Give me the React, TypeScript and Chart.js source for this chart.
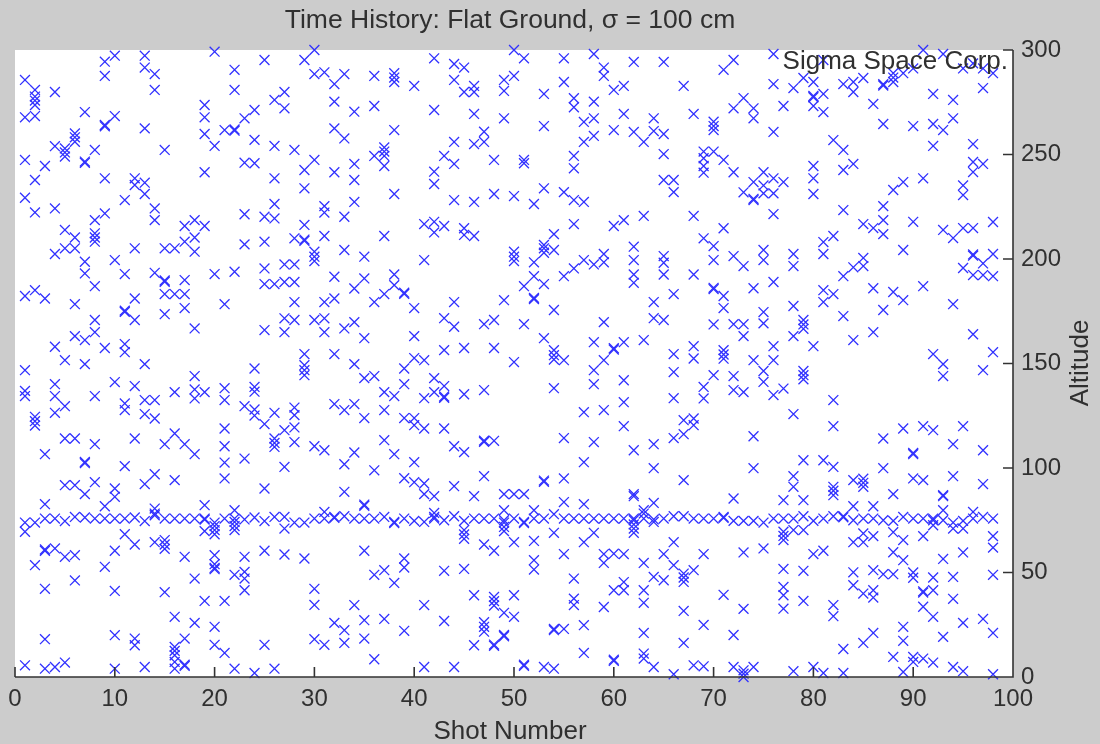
import React, { useEffect, useRef } from "react";
import { Chart, registerables } from "chart.js";

Chart.register(...registerables);

const titleText = "Time History: Flat Ground, σ = 100 cm";
const xAxisLabel = "Shot Number";
const yAxisLabel = "Altitude";
const watermark = "Sigma Space Corp.";
const xTicks = [0, 10, 20, 30, 40, 50, 60, 70, 80, 90, 100];
const yTicks = [0, 50, 100, 150, 200, 250, 300];

// Ground return near 75 for each shot 1..98
const groundReturn = [
  73.9, 73.9, 75.8, 75.8, 74.6, 76.6, 76.3, 75.8, 75.8, 75.8, 75.8, 76.3, 74.6, 77.4, 75.8, 75.8, 75.8, 75.8, 75.8, 73.9,
  75.8, 75.8, 75.4, 76.3, 74.6, 76.6, 76.6, 73.9, 73.9, 75.8, 75.8, 76.6, 76.9, 75.8, 75.8, 75.8, 76.6, 74.2, 75.8, 74.7,
  74.2, 75.8, 75, 76.9, 74.7, 75.8, 75.8, 75.8, 75, 75.8, 74.2, 75.8, 75.8, 77.9, 75.8, 75.8, 75.8, 75.8, 75.8, 75.8,
  75.8, 75.8, 75.8, 75.4, 75.8, 76.9, 76.9, 75.8, 75.8, 75.8, 76.6, 74.7, 74.7, 74.7, 73.9, 75.8, 75.8, 75.8, 76.9, 74.7,
  75.8, 76.9, 76.9, 75, 75.8, 75.8, 75, 74.7, 76.6, 75.8, 75.8, 75.8, 75, 73.9, 74.7, 75.8, 76.6, 75.8,
];
const boldGroundShots = [19, 32, 38, 51, 71, 83];

// Noise returns per shot, index 0 is shot 1
const noiseReturns: number[][] = [
  [285.7, 267.8, 247.4, 229.3, 182.3, 146.8, 136.9, 134.4, 69.5, 5.6],
  [280.9, 277.7, 275.8, 273.7, 268.4, 237.8, 222.3, 185.1, 124.5, 122.4, 120.3, 53.5],
  [244.5, 181.1, 106.6, 82.7, 61, 60.4, 42.2, 18.1, 4],
  [279.9, 254, 224.2, 202.4, 158, 140.1, 134.4, 126.4, 61.5, 4.8],
  [252.9, 251, 249, 213.9, 205.1, 151.6, 129.6, 114.1, 91.8, 57.5, 6.9],
  [260.1, 258.2, 256.1, 210.3, 205.1, 178.4, 163.1, 114.1, 91.8, 58.3, 46.2],
  [270.3, 246.6, 246, 198.7, 193.1, 161.2, 149.7, 102.9, 102.3, 87.5],
  [252.2, 218.6, 212.3, 210.3, 208.3, 187, 170.8, 165, 134.4, 111.4, 93.2],
  [294.4, 287.6, 264.1, 263.5, 238.6, 221.8, 157.4, 81.7, 52.7],
  [297.3, 268.4, 199.5, 141.1, 90.2, 86.2, 60.4, 41.2, 20, 4],
  [228.2, 192.8, 175.3, 174.7, 159.3, 155.4, 130.9, 127.7, 100.9, 68.3],
  [238.6, 235.4, 205.1, 181.1, 170.8, 139.2, 114.1, 63.4, 18.4, 15.2],
  [297.3, 291.6, 262.5, 236.5, 231.1, 149.7, 132.5, 125.8, 92.3, 4.8],
  [288.5, 280.9, 224.2, 218.6, 193.4, 132.5, 123.7, 97, 80.6, 78.2, 64.5],
  [252.2, 205.1, 189.7, 189.1, 183.2, 173.6, 111.4, 65.5, 63.4, 61.3, 40.6],
  [205.1, 183.2, 136.3, 116.5, 94.2, 28.8, 14.4, 12.5, 10.4, 7.2, 4],
  [215.8, 208.3, 189.9, 183.2, 176.5, 111.4, 57.5, 18.4, 5.9, 5.3],
  [218.6, 210.3, 203.5, 166.8, 144, 137.6, 133.3, 106.6, 47.1, 25.9],
  [273.7, 267.8, 259.8, 241.5, 215.8, 136.3, 82.2, 69.8, 36.4],
  [299.2, 254.1, 192.8, 72.2, 70.3, 68.3, 58.3, 54, 52.2, 51.6, 24, 15.4],
  [261.7, 178.4, 138.2, 132.5, 118.9, 110.4, 102.6, 95, 36.4, 11.5],
  [290.5, 280.9, 262, 261.4, 193.9, 79.8, 74.2, 72.2, 70.3, 48.9, 4],
  [267.3, 246.1, 221.4, 207, 129.6, 104.5, 57.5, 50.3, 47.1, 41.5],
  [271.3, 257, 245.8, 147.6, 138.8, 136.5, 128, 125.1, 1.9],
  [295.2, 220.2, 208.3, 195.5, 188, 166, 121, 90.2, 60.4, 15.4],
  [276.1, 254.1, 238.6, 226.3, 219.4, 188, 126.4, 114.1, 112, 110.1, 4],
  [279.9, 272.1, 197.4, 189, 171.6, 165, 118.1, 100.5, 71, 58.6],
  [252.2, 209.9, 197.4, 189, 179.4, 170.8, 128.9, 125.3, 119.4, 112.4],
  [295.2, 242.6, 233.8, 216.3, 209.3, 208.7, 154.5, 149.2, 146.8, 144.4, 56.7],
  [300, 288.5, 247.4, 203.5, 201.1, 199, 170.8, 110.4, 42.2, 34.5, 18.1],
  [289.3, 225.3, 222.2, 211, 179.4, 171.6, 165, 108.5, 79, 15.4],
  [283.7, 275.3, 262.5, 241.5, 191.5, 181.1, 154.5, 130.6, 25.9],
  [288.5, 257.7, 220.2, 204.3, 166.8, 127.7, 101.8, 88.6, 22.4, 16.3],
  [270.5, 245.5, 237.8, 227.3, 185.9, 169.8, 149.7, 130.6, 107.4, 34.4],
  [201.1, 190.7, 162.1, 143, 123.9, 82.5, 81.9, 60.4, 27.2, 18.4],
  [287.6, 273.2, 249.3, 179.4, 144, 98.9, 48.9, 8.5],
  [253.4, 251.4, 249.3, 244.5, 211, 183.2, 136.3, 127.7, 113.3, 51.1, 27.8],
  [288.9, 286.8, 284.7, 261.7, 231.1, 192.6, 187.5, 134.4, 106.6, 45],
  [183.9, 183.3, 147.6, 140.1, 123.9, 95.1, 56.7, 52.4, 22.1],
  [282.8, 176.5, 163.1, 152.6, 123.9, 120.5, 102.8, 93.2],
  [216.7, 199.5, 151.6, 133.4, 118.9, 92.6, 87.5, 34.4, 4.8],
  [296, 271.3, 241.8, 235.9, 217.8, 212.7, 143, 136.3, 86.5, 78.5, 76.6],
  [249.3, 215.8, 171.7, 156.4, 139.2, 134.2, 133.6, 118.9, 50.8, 26.8],
  [293.3, 285.7, 256, 245.5, 228.2, 179.4, 167.6, 110.4, 91.3, 4.8],
  [291.6, 279.9, 214.7, 211.5, 157.4, 135.3, 107.6, 70.3, 68.2, 66.1, 51.7],
  [282.8, 279.9, 269.4, 255, 227.3, 211, 86.5, 39.1, 15.2],
  [260.9, 256, 168.8, 137.3, 113.1, 112.5, 96.1, 63.4, 26.2, 24, 21.7],
  [247.4, 231.1, 170.8, 157.4, 113, 60.4, 38.3, 36.3, 34.2, 15.5, 14.9],
  [285.7, 280.4, 267.3, 180.3, 87.5, 79.8, 73.9, 71.8, 69.8, 30.7, 20.1, 19.5],
  [300, 287.6, 230.1, 203.5, 201.1, 199, 150.7, 87.5, 64.5, 39.1, 28.8],
  [296, 247.4, 245.8, 187, 168.8, 87.5, 5.9, 5.3],
  [226.3, 198.4, 191.8, 181.4, 180.8, 79.8, 65.1, 55.9, 51.4],
  [279, 263.6, 233.8, 206.7, 205.1, 203, 188, 162.1, 94, 93.4, 4.8],
  [211.9, 204.3, 175.6, 156.4, 154, 151.9, 138.2, 69, 23, 22.4, 4],
  [296, 284.7, 232, 191.8, 151.6, 114.3, 95, 83.7, 58.8, 23],
  [276.9, 272.6, 249.3, 243.4, 228.2, 216.7, 195.5, 47.1, 37.5, 34.4],
  [265.6, 256, 227.3, 199.5, 126.7, 102.8, 82.7, 64.5, 24.8, 11.5],
  [298.1, 275.3, 267.3, 258.9, 197.4, 160.2, 146.8, 140.1, 112.4, 69],
  [291.6, 287.6, 202.4, 198.4, 169.8, 151.6, 127.7, 58.8, 54.6, 33.5],
  [280.9, 261.7, 215.8, 157.3, 156.7, 59, 41.5, 8.3, 7.7],
  [282.8, 269.4, 218.6, 160.2, 142, 131.5, 120, 58.8, 45.4, 41.5],
  [294.3, 260.8, 205.9, 199.5, 192.6, 188.6, 108.5, 87.5, 86.5, 75, 73, 71, 69],
  [256, 220.6, 161.2, 79.8, 78.2, 54.6, 41.5, 35.5, 21.1, 11.2, 8.8],
  [267.3, 261.2, 179.4, 171.7, 111.4, 99.9, 83.3, 74.2, 47.9, 4.8],
  [294.3, 259.8, 250.2, 237.8, 201.4, 198.2, 192.6, 170.8, 58.8, 46.3],
  [237.8, 232, 183.2, 154.5, 145.9, 133.4, 114.3, 64.5, 53.5, 1.3],
  [282.8, 122.9, 116.2, 94.2, 49.5, 47.6, 45.5, 31.6, 16.3],
  [269.4, 220.6, 192.6, 158.3, 152.4, 123.7, 120.5, 51.1, 5.6],
  [251.4, 248.2, 244.5, 241.3, 209.9, 138.8, 133.3, 58.8, 24.9, 5.1],
  [265.7, 263.6, 261.7, 251.4, 206.2, 199.5, 186.2, 185.6, 168.7, 144.4],
  [290.5, 247.4, 214.7, 182.3, 176.5, 156.4, 154.3, 152.3, 39.3],
  [295.2, 272.1, 241.5, 201.4, 168.8, 144, 137.3, 85.4, 20.1, 4.8],
  [277, 231.9, 196.6, 168.8, 163.1, 136.3, 59.6, 32.6, 3.2, 1.6, 0],
  [272.1, 267.3, 236.8, 228.8, 228.2, 186, 151.6, 115.2, 99.9, 4.8],
  [241.5, 235.2, 231.4, 204.3, 199.5, 174.6, 169.2, 146.4, 141.2, 61.5],
  [298.1, 283.7, 260.8, 238.6, 231.4, 221.5, 189, 158.3, 151.6, 134.9],
  [273.2, 236.8, 138, 84.6, 69.5, 67.5, 65.5, 51.7, 43.1, 39.1, 32.7],
  [281.8, 202.4, 196.6, 177.5, 163.1, 125.8, 96.1, 91, 70.3, 2.8],
  [286.6, 170.8, 168.7, 166.6, 146.4, 144.4, 142.4, 103.7, 84.6, 70.3, 50.8, 36.4],
  [284.7, 278, 277.4, 273.2, 244.5, 238.6, 231.1, 158.3, 58.8, 4.8],
  [295.2, 279, 270.3, 208.1, 202.4, 185.1, 179.4, 103.7, 60.4, 1.9],
  [256.9, 211, 183.2, 132.5, 120, 100.5, 91, 89.1, 87, 34.4, 29.1],
  [283.7, 252.2, 242.6, 223.4, 191.8, 172.7, 13.4, 1.9],
  [284.7, 279.9, 245.5, 196, 161.2, 94.2, 81.7, 64.5, 50.1, 43.9],
  [286.6, 216.7, 200.5, 196.6, 94.9, 92.9, 91, 68.7, 64.5, 39.9, 16.3],
  [274.2, 214.8, 186, 165, 81.7, 67.4, 51.1, 41.5, 38, 21.1],
  [283.6, 283, 264.6, 225.3, 218.6, 211.9, 175.6, 114.1, 99.9, 49.2],
  [288.9, 286.8, 284.7, 233, 184.2, 87.5, 69.3, 59.7, 49.2, 9.6],
  [288.9, 236.8, 204.3, 180.3, 118.9, 65.5, 55.9, 24, 17.3, 2.4],
  [291.2, 263.6, 217.8, 107.2, 106.6, 95, 50, 47.5, 9.6, 7.2],
  [300, 238.6, 187, 120, 94.2, 67.4, 41, 40.4, 33.6, 8.8],
  [279, 264.6, 254.1, 154.5, 118.1, 75, 72.6, 47.6, 41.5, 28.8, 6.9],
  [298.1, 261.7, 213.9, 149.7, 144, 87, 86.5, 79.8, 56.5, 19.2],
  [276.1, 267.3, 210, 178.4, 111.4, 96.1, 71, 47.9, 37.4, 4.8],
  [291.2, 235.2, 230.6, 214.8, 195.7, 120, 71, 59.6, 25.9, 2.8],
  [293.6, 255, 246.4, 241.6, 214.8, 202.2, 201.6, 192.3, 164, 79],
  [291.2, 281.8, 245.5, 197.9, 192.3, 146.8, 108.5, 92.3, 27.8],
  [288.9, 217.7, 202.4, 191.8, 155.4, 67.4, 61.9, 48.9, 21.1, 1.3],
];

const FONT = '"Liberation Sans", Arial, sans-serif';
const INK = "#303030";
const BLUE = "#3030ff";

const decorations = {
  id: "decorations",
  beforeDraw(chart: any) {
    const { ctx, width, height, chartArea: a } = chart;
    ctx.save();
    ctx.fillStyle = "#cccccc";
    ctx.fillRect(0, 0, width, height);
    ctx.fillStyle = "#ffffff";
    ctx.fillRect(a.left, a.top, a.right - a.left, a.bottom - a.top);
    ctx.restore();
  },
  afterDraw(chart: any) {
    const { ctx, chartArea: a, scales } = chart;
    ctx.save();
    ctx.strokeStyle = "#333333";
    ctx.lineWidth = 1.6;
    ctx.beginPath();
    ctx.moveTo(a.left, a.bottom);
    ctx.lineTo(a.right, a.bottom);
    ctx.lineTo(a.right, a.top);
    for (const v of xTicks) {
      const p = scales.x.getPixelForValue(v);
      ctx.moveTo(p, a.bottom);
      ctx.lineTo(p, a.bottom - 10);
    }
    for (const v of yTicks) {
      const p = scales.y.getPixelForValue(v);
      ctx.moveTo(a.right, p);
      ctx.lineTo(a.right - 10, p);
    }
    ctx.stroke();
    ctx.fillStyle = INK;
    ctx.textBaseline = "middle";
    ctx.font = `26.5px ${FONT}`;
    ctx.textAlign = "center";
    ctx.fillText(titleText, 510, 21);
    ctx.font = `26px ${FONT}`;
    ctx.fillText(xAxisLabel, 510, 732);
    ctx.textAlign = "right";
    ctx.fillText(watermark, 1008, 62);
    ctx.save();
    ctx.translate(1081, 363);
    ctx.rotate(-Math.PI / 2);
    ctx.textAlign = "center";
    ctx.fillText(yAxisLabel, 0, 0);
    ctx.restore();
    ctx.restore();
  },
};

const toPoints = () => {
  const pts: { x: number; y: number }[] = [];
  noiseReturns.forEach((vals, i) => vals.forEach((y) => pts.push({ x: i + 1, y })));
  return pts;
};

export default function App() {
  const ref = useRef<HTMLCanvasElement>(null);
  useEffect(() => {
    const markerStyle = {
      showLine: false,
      pointStyle: "crossRot",
      pointRadius: 7,
      pointBorderWidth: 1.3,
      borderColor: BLUE,
      backgroundColor: BLUE,
      pointBorderColor: BLUE,
      pointBackgroundColor: BLUE,
      clip: false as const,
    };
    const chart = new Chart(ref.current!, {
      type: "scatter",
      data: {
        datasets: [
          { label: "Noise", data: toPoints(), ...markerStyle },
          { label: "Ground", data: groundReturn.map((y, i) => ({ x: i + 1, y })), ...markerStyle },
          {
            label: "Ground (repeat)",
            data: boldGroundShots.map((s) => ({ x: s, y: groundReturn[s - 1] - 0.5 })),
            ...markerStyle,
          },
        ],
      },
      options: {
        responsive: false,
        animation: false,
        layout: { padding: { left: 15, right: 0, top: 50, bottom: 0 } },
        plugins: {
          legend: { display: false },
          tooltip: { enabled: false },
        },
        scales: {
          x: {
            type: "linear",
            min: 0,
            max: 100,
            grid: { display: false },
            border: { display: false },
            afterFit: (s: any) => { s.height = 67; },
            afterBuildTicks: (s: any) => { s.ticks = xTicks.map((value) => ({ value })); },
            ticks: { color: INK, font: { family: FONT, size: 24 }, padding: 0, maxRotation: 0, autoSkip: false },
          },
          y: {
            type: "linear",
            position: "right",
            min: 0,
            max: 300,
            grid: { display: false },
            border: { display: false },
            afterFit: (s: any) => { s.width = 87; },
            afterBuildTicks: (s: any) => { s.ticks = yTicks.map((value) => ({ value })); },
            ticks: { color: INK, font: { family: FONT, size: 24 }, padding: 0, autoSkip: false },
          },
        },
      },
      plugins: [decorations],
    } as any);
    return () => chart.destroy();
  }, []);
  return (
    <canvas
      ref={ref}
      width={1100}
      height={744}
      style={{ position: "absolute", left: 0, top: 0, width: 1100, height: 744, display: "block" }}
    />
  );
}
